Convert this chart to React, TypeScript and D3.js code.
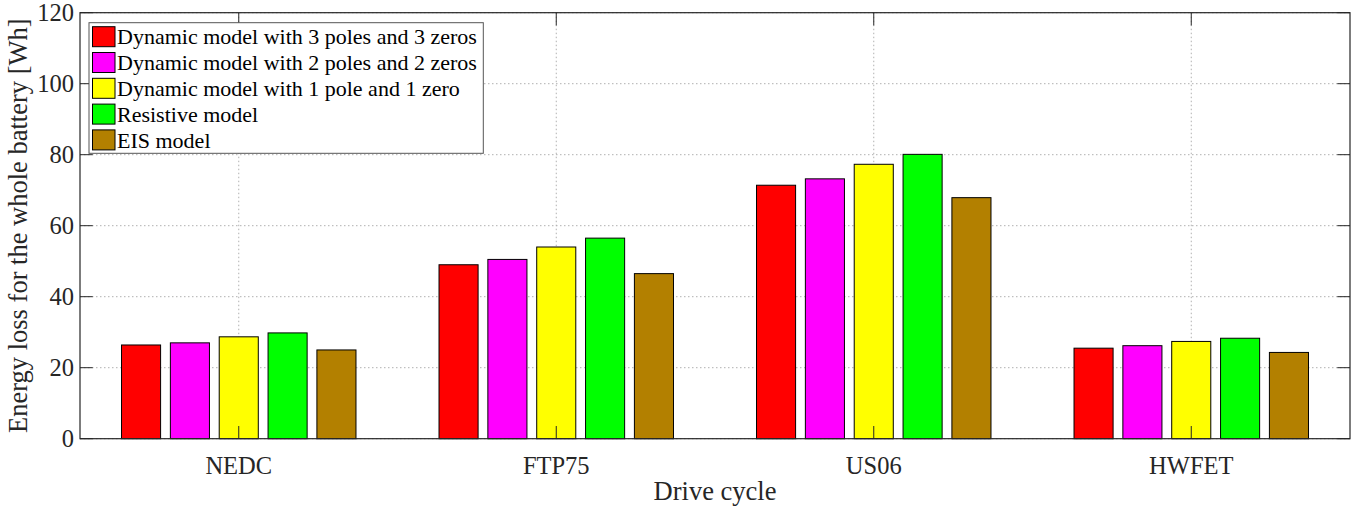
import React from "react";
import * as d3 from "d3";

const categories = ["NEDC", "FTP75", "US06", "HWFET"];
const seriesNames = [
  "Dynamic model with 3 poles and 3 zeros",
  "Dynamic model with 2 poles and 2 zeros",
  "Dynamic model with 1 pole and 1 zero",
  "Resistive model",
  "EIS model",
];
const seriesColors = ["#ff0000", "#ff00ff", "#ffff00", "#00ff00", "#b38000"];
const dyn3 = [26.4, 49.0, 71.4, 25.5];
const dyn2 = [27.0, 50.5, 73.2, 26.2];
const dyn1 = [28.7, 54.0, 77.3, 27.4];
const resistive = [29.8, 56.5, 80.1, 28.3];
const eis = [25.0, 46.5, 67.9, 24.3];
const seriesValues = [dyn3, dyn2, dyn1, resistive, eis];
const yTicks = [0, 20, 40, 60, 80, 100, 120];

const W = 1361;
const H = 510;
const L = 80, R = 1350, T = 12.7, B = 438.7;
const FONT = "'Liberation Serif', 'Times New Roman', serif";
const AX = "#262626";

export default function App() {
  const x = d3.scaleBand<string>().domain(categories).range([L, R]).paddingInner(0).paddingOuter(0);
  const y = d3.scaleLinear().domain([0, 120]).range([B, T]);
  const nS = seriesNames.length;
  const groupW = x.bandwidth() * Math.min(0.8, nS / (nS + 1.5));
  const pitch = groupW / nS;
  const barW = pitch * 0.8;
  const tickLen = 12.7;

  return (
    <svg width={W} height={H} style={{ position: "absolute", left: 0, top: 0 }} fontFamily={FONT}>
      <rect x={0} y={0} width={W} height={H} fill="#fff" />
      {/* grid */}
      {yTicks.map((t) => (
        <line key={"gy" + t} x1={L} x2={R} y1={y(t)} y2={y(t)} stroke="#b0b0b0" strokeDasharray="1.5,2.5" strokeWidth={1} />
      ))}
      {categories.map((c) => {
        const cx = x(c)! + x.bandwidth() / 2;
        return <line key={"gx" + c} x1={cx} x2={cx} y1={T} y2={B} stroke="#b0b0b0" strokeDasharray="1.5,2.5" strokeWidth={1} />;
      })}
      {/* bars */}
      {categories.map((c, ci) => {
        const cx = x(c)! + x.bandwidth() / 2;
        return seriesValues.map((vals, si) => {
          const bc = cx - groupW / 2 + pitch * (si + 0.5);
          return (
            <rect
              key={c + si}
              x={bc - barW / 2}
              y={y(vals[ci])}
              width={barW}
              height={B - y(vals[ci])}
              fill={seriesColors[si]}
              stroke="#000"
              strokeWidth={1}
            />
          );
        });
      })}
      {/* box */}
      <rect x={L} y={T} width={R - L} height={B - T} fill="none" stroke={AX} strokeWidth={1.2} />
      {/* ticks */}
      {yTicks.map((t) => (
        <g key={"ty" + t}>
          <line x1={L} x2={L + tickLen} y1={y(t)} y2={y(t)} stroke={AX} />
          <line x1={R - tickLen} x2={R} y1={y(t)} y2={y(t)} stroke={AX} />
          <text x={L - 6} y={y(t)} dy="0.35em" textAnchor="end" fontSize={24.5} fill={AX}>
            {t}
          </text>
        </g>
      ))}
      {categories.map((c) => {
        const cx = x(c)! + x.bandwidth() / 2;
        return (
          <g key={"tx" + c}>
            <line x1={cx} x2={cx} y1={B} y2={B - tickLen} stroke={AX} />
            <line x1={cx} x2={cx} y1={T} y2={T + tickLen} stroke={AX} />
            <text x={cx} y={B + 35} textAnchor="middle" fontSize={24.5} fill={AX}>
              {c}
            </text>
          </g>
        );
      })}
      {/* axis labels */}
      <text x={(L + R) / 2} y={500} textAnchor="middle" fontSize={26.5} fill={AX}>
        Drive cycle
      </text>
      <text transform={`translate(27,${(T + B) / 2}) rotate(-90)`} textAnchor="middle" fontSize={26.5} fill={AX}>
        Energy loss for the whole battery [Wh]
      </text>
      {/* legend */}
      <rect x={89} y={22.7} width={394.3} height={130.6} fill="#fff" stroke="#555" strokeWidth={1} />
      {seriesNames.map((n, i) => {
        const cy = 36.7 + i * 25.8;
        return (
          <g key={"lg" + i}>
            <rect x={92.5} y={cy - 10} width={22.5} height={20} fill={seriesColors[i]} stroke="#000" strokeWidth={1} />
            <text x={117} y={cy} dy="0.35em" fontSize={22} fill="#000">
              {n}
            </text>
          </g>
        );
      })}
    </svg>
  );
}
